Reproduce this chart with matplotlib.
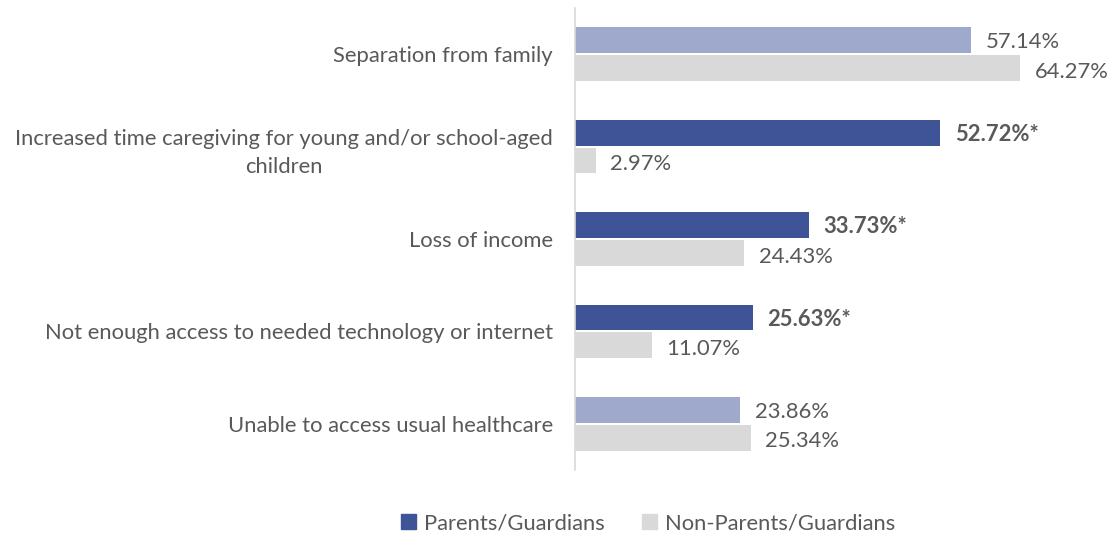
import numpy as np
import matplotlib.pyplot as plt
from matplotlib.patches import Patch

plt.rcParams['font.family'] = ['Lato', 'DejaVu Sans']

categories = [
    "Separation from family",
    "Increased time caregiving for young and/or school-aged\nchildren",
    "Loss of income",
    "Not enough access to needed technology or internet",
    "Unable to access usual healthcare",
]
parents = [57.14, 52.72, 33.73, 25.63, 23.86]
non_parents = [64.27, 2.97, 24.43, 11.07, 25.34]
significant = [False, True, True, True, False]

DARK = '#3F5497'
LIGHT = '#9FA9CB'
GREY = '#D9D9D9'
TEXT = '#595959'
FS = 15.8

fig = plt.figure(figsize=(11.1, 5.35), dpi=100)
ax = fig.add_axes([575 / 1110, 1 - 470 / 535, 535 / 1110, 462 / 535])

y = np.arange(len(categories))
h = 0.28
gap = 0.02

p_colors = [DARK if s else LIGHT for s in significant]
ax.barh(y - h / 2 - gap / 2, parents, height=h, color=p_colors)
ax.barh(y + h / 2 + gap / 2, non_parents, height=h, color=GREY)

for i in range(len(categories)):
    star = '*' if significant[i] else ''
    ax.text(parents[i] + 2.1, y[i] - h / 2 - gap / 2 + 0.02, f"{parents[i]:.2f}%{star}",
            va='center', ha='left', fontsize=FS, color=TEXT,
            fontweight='bold' if significant[i] else 'normal')
    ax.text(non_parents[i] + 2.1, y[i] + h / 2 + gap / 2 + 0.04, f"{non_parents[i]:.2f}%",
            va='center', ha='left', fontsize=FS, color=TEXT)

ax.set_xlim(0, 535 / 6.93)
ax.set_ylim(len(categories) - 0.5, -0.5)
ax.set_yticks(y)
ax.set_yticklabels(categories, fontsize=FS, color=TEXT, multialignment='center',
                   linespacing=1.5)
ax.set_xticks([])
ax.tick_params(axis='y', length=0, pad=16)
for side in ['top', 'right', 'bottom']:
    ax.spines[side].set_visible(False)
ax.spines['left'].set_color('#D9D9D9')
ax.spines['left'].set_linewidth(1.2)

handles = [Patch(color=DARK, label='Parents/Guardians'),
           Patch(color=GREY, label='Non-Parents/Guardians')]
fig.legend(handles=handles, loc='center', bbox_to_anchor=(648 / 1110, 1 - 523 / 535),
           ncol=2, frameon=False, fontsize=FS, labelcolor=TEXT,
           handlelength=0.7, handleheight=0.7, handletextpad=0.35, columnspacing=1.7)

fig.savefig('out.png', dpi=100)
